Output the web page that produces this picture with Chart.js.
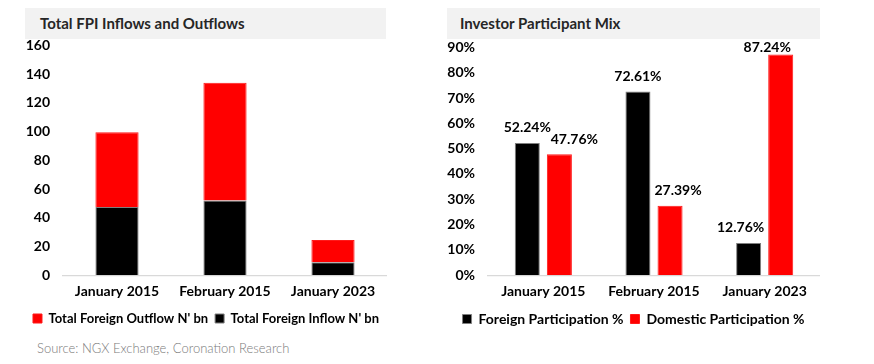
<!DOCTYPE html>
<html>
<head>
<meta charset="utf-8">
<script src="https://cdn.jsdelivr.net/npm/chart.js@4.4.0/dist/chart.umd.min.js"></script>
<style>
  body { margin: 0; width: 874px; height: 364px; background: #fff; position: relative; overflow: hidden; font-family: Lato, sans-serif; }
  .band { position: absolute; top: 8px; height: 31px; background: #f2f2f2; }
  .band span { position: absolute; left: 15px; top: 6px; font-weight: bold; font-size: 15px; color: #262626; white-space: nowrap; }
  canvas { position: absolute; }
  #source { position: absolute; left: 37px; top: 340px; font-size: 13px; font-weight: 300; color: #7a7a7a; }
</style>
</head>
<body>
<div class="band" style="left:25px;width:361px"><span>Total FPI Inflows and Outflows</span></div>
<div class="band" style="left:447px;width:373px"><span style="left:13px">Investor Participant Mix</span></div>
<canvas id="fpiChart" width="362" height="315" style="left:25px;top:24px"></canvas>
<canvas id="mixChart" width="373" height="314" style="left:447px;top:26px"></canvas>
<div id="source">Source: NGX Exchange, Coronation Research</div>

<script>
  // data
  const months = ['January 2015', 'February 2015', 'January 2023'];

  // N' bn
  const inflow = [47.5, 52, 9];
  const outflow = [52, 82, 15.5];

  // %
  const foreignPct = [52.24, 72.61, 12.76];
  const domesticPct = [47.76, 27.39, 87.24];

  Chart.defaults.font.family = 'Lato';
  Chart.defaults.color = '#000';

  const tickFont = { size: 14, weight: 'bold' };

  // labels above bars (excel moved a few of them sideways)
  const valueLabels = {
    id: 'valueLabels',
    afterDatasetsDraw(chart, args, opts) {
      if (!opts.show) return;
      const { ctx, chartArea } = chart;
      ctx.save();
      ctx.font = 'bold 14px Lato';
      ctx.fillStyle = '#000';
      ctx.textAlign = 'center';
      ctx.textBaseline = 'middle';
      chart.data.datasets.forEach((ds, i) => {
        chart.getDatasetMeta(i).data.forEach((bar, j) => {
          const shift = (opts.shift[i] || [])[j] || 0;
          const y = Math.max(bar.y - 15, chartArea.top);
          ctx.fillText(ds.data[j].toFixed(2) + '%', bar.x + shift, y);
        });
      });
      ctx.restore();
    }
  };

  const legendOpts = (reverse, size, pad) => ({
    position: 'bottom',
    reverse: reverse,
    labels: { boxWidth: 9, boxHeight: 9, padding: pad, font: { size: size, weight: 'bold' }, color: '#000' }
  });

  const xScale = {
    grid: { display: false, drawTicks: false },
    border: { display: true, color: '#d9d9d9', width: 1.2 },
    ticks: { font: tickFont, padding: 8 },
    afterFit: (scale) => { scale.height -= 3; }
  };

  const yScale = (max, step, axisWidth) => ({
    min: 0, max: max,
    grid: { display: false, drawTicks: false },
    border: { display: false },
    ticks: { stepSize: step, font: tickFont, padding: 13 },
    afterFit: (scale) => { scale.width = axisWidth; }
  });

  // left chart - stacked flows
  const fpiY = yScale(160, 20, 38);
  fpiY.stacked = true;

  new Chart(document.getElementById('fpiChart'), {
    type: 'bar',
    data: {
      labels: months,
      datasets: [
        { label: "Total Foreign Inflow N' bn", data: inflow, backgroundColor: '#000000', borderColor: '#7f7f7f', borderWidth: 1, categoryPercentage: 0.8, barPercentage: 0.5 },
        { label: "Total Foreign Outflow N' bn", data: outflow, backgroundColor: '#ff0000', borderColor: '#ff1a1a', borderWidth: 1, categoryPercentage: 0.8, barPercentage: 0.5 }
      ]
    },
    options: {
      responsive: false,
      animation: false,
      layout: { padding: { bottom: 4 } },
      scales: {
        x: { ...xScale, stacked: true },
        y: fpiY
      },
      plugins: {
        legend: legendOpts(true, 13, 7),
        tooltip: { enabled: false },
        valueLabels: { show: false }
      }
    },
    plugins: [valueLabels]
  });

  // right chart - participation mix
  const mixY = yScale(90, 10, 41);
  mixY.ticks.callback = (v) => v + '%';

  new Chart(document.getElementById('mixChart'), {
    type: 'bar',
    data: {
      labels: months,
      datasets: [
        { label: 'Foreign Participation %', data: foreignPct, backgroundColor: '#000000', borderColor: '#7f7f7f', borderWidth: 1, categoryPercentage: 0.58, barPercentage: 0.78 },
        { label: 'Domestic Participation %', data: domesticPct, backgroundColor: '#ff0000', borderColor: '#ff1a1a', borderWidth: 1, categoryPercentage: 0.58, barPercentage: 0.78 }
      ]
    },
    options: {
      responsive: false,
      animation: false,
      layout: { padding: { bottom: 4 } },
      scales: {
        x: xScale,
        y: mixY
      },
      plugins: {
        legend: legendOpts(false, 14, 7),
        tooltip: { enabled: false },
        valueLabels: { show: true, shift: [[0, 0, -8], [15, 8, -13.5]] }
      }
    },
    plugins: [valueLabels]
  });
</script>
</body>
</html>
